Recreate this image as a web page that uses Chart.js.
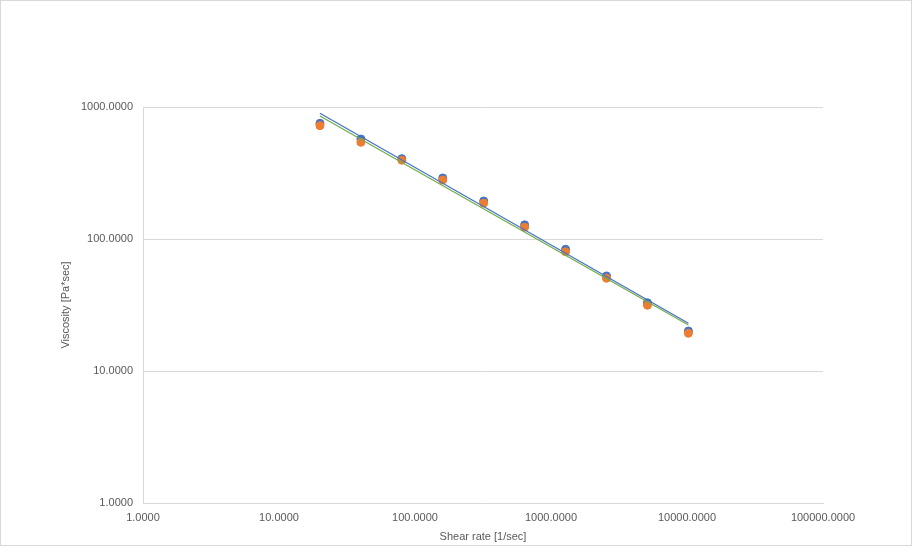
<!DOCTYPE html>
<html>
<head>
<meta charset="utf-8">
<script src="https://cdn.jsdelivr.net/npm/chart.js@4"></script>
<style>
  html, body { margin: 0; padding: 0; background: #fff; }
  #wrap { width: 913px; height: 547px; position: relative; }
</style>
</head>
<body>
<div id="wrap"><canvas id="viscosity-chart"></canvas></div>
<script>
// shear rates [1/sec]
const shearRate = [20, 40, 80, 160, 320, 640, 1280, 2560, 5120, 10240];
// measured viscosity, two runs
const viscosityA = [752, 572, 406, 290, 194, 128, 83.6, 52.5, 32.9, 20.1];
const viscosityB = [722, 540, 395, 280, 187, 123, 80.2, 50.4, 31.5, 19.3];
// power trendline end points
const trendX = [20, 10240];
const trendA = [896, 23.0];
const trendB = [855, 22.3];
// decade ticks
const xTicks = [1, 10, 100, 1000, 10000, 100000];
const yTicks = [1, 10, 100, 1000];

function toPoints(xs, ys) {
  return xs.map((x, i) => ({ x: x, y: ys[i] }));
}

const frame = {
  id: "frame",
  afterDraw(chart) {
    const c = chart.ctx;
    c.save();
    c.strokeStyle = "#d9d9d9";
    c.lineWidth = 1;
    c.strokeRect(0.5, 0.5, 911, 545);
    c.restore();
  },
};

const tickFont = { family: "Liberation Sans", size: 11 };

const ctx = document.querySelector("#viscosity-chart").getContext("2d");
const myChart = new Chart(ctx, {
  type: "scatter",
  data: {
    datasets: [
      {
        label: "Trend A",
        data: toPoints(trendX, trendA),
        showLine: true,
        borderColor: "#4472C4",
        borderWidth: 1.25,
        pointRadius: 0,
        order: 0,
      },
      {
        label: "Trend B",
        data: toPoints(trendX, trendB),
        showLine: true,
        borderColor: "#70AD47",
        borderWidth: 1.25,
        pointRadius: 0,
        order: 1,
      },
      {
        label: "Run A",
        data: toPoints(shearRate, viscosityA),
        backgroundColor: "#4472C4",
        borderColor: "#4472C4",
        pointRadius: 4,
        order: 3,
      },
      {
        label: "Run B",
        data: toPoints(shearRate, viscosityB),
        backgroundColor: "#ED7D31",
        borderColor: "#ED7D31",
        pointRadius: 4,
        order: 2,
      },
    ],
  },
  options: {
    responsive: true,
    maintainAspectRatio: false,
    animation: false,
    layout: { padding: { top: 107, right: 90, left: 0, bottom: 0 } },
    plugins: { legend: { display: false }, tooltip: { enabled: false } },
    scales: {
      x: {
        type: "logarithmic",
        min: 1,
        max: 100000,
        afterBuildTicks: (axis) => {
          axis.ticks = xTicks.map((v) => ({ value: v }));
        },
        afterFit: (axis) => {
          axis.height = 44;
        },
        grid: { display: false, drawTicks: false },
        border: { display: true, color: "#d9d9d9" },
        ticks: {
          color: "#595959",
          font: tickFont,
          padding: 8,
          maxRotation: 0,
          autoSkip: false,
          callback: (v) => Number(v).toFixed(4),
        },
        title: {
          display: true,
          text: "Shear rate [1/sec]",
          color: "#595959",
          font: tickFont,
          padding: { top: 0, bottom: 3 },
        },
      },
      y: {
        type: "logarithmic",
        min: 1,
        max: 1000,
        afterBuildTicks: (axis) => {
          axis.ticks = yTicks.map((v) => ({ value: v }));
        },
        afterFit: (axis) => {
          axis.width = 143;
        },
        grid: { color: "#d9d9d9", drawTicks: false },
        border: { display: true, color: "#d9d9d9" },
        ticks: {
          color: "#595959",
          font: tickFont,
          padding: 10,
          autoSkip: false,
          callback: (v) => Number(v).toFixed(4),
        },
        title: {
          display: true,
          text: "Viscosity [Pa*sec]",
          color: "#595959",
          font: tickFont,
          padding: { top: 59, bottom: 0 },
        },
      },
    },
  },
  plugins: [frame],
});
</script>
</body>
</html>
